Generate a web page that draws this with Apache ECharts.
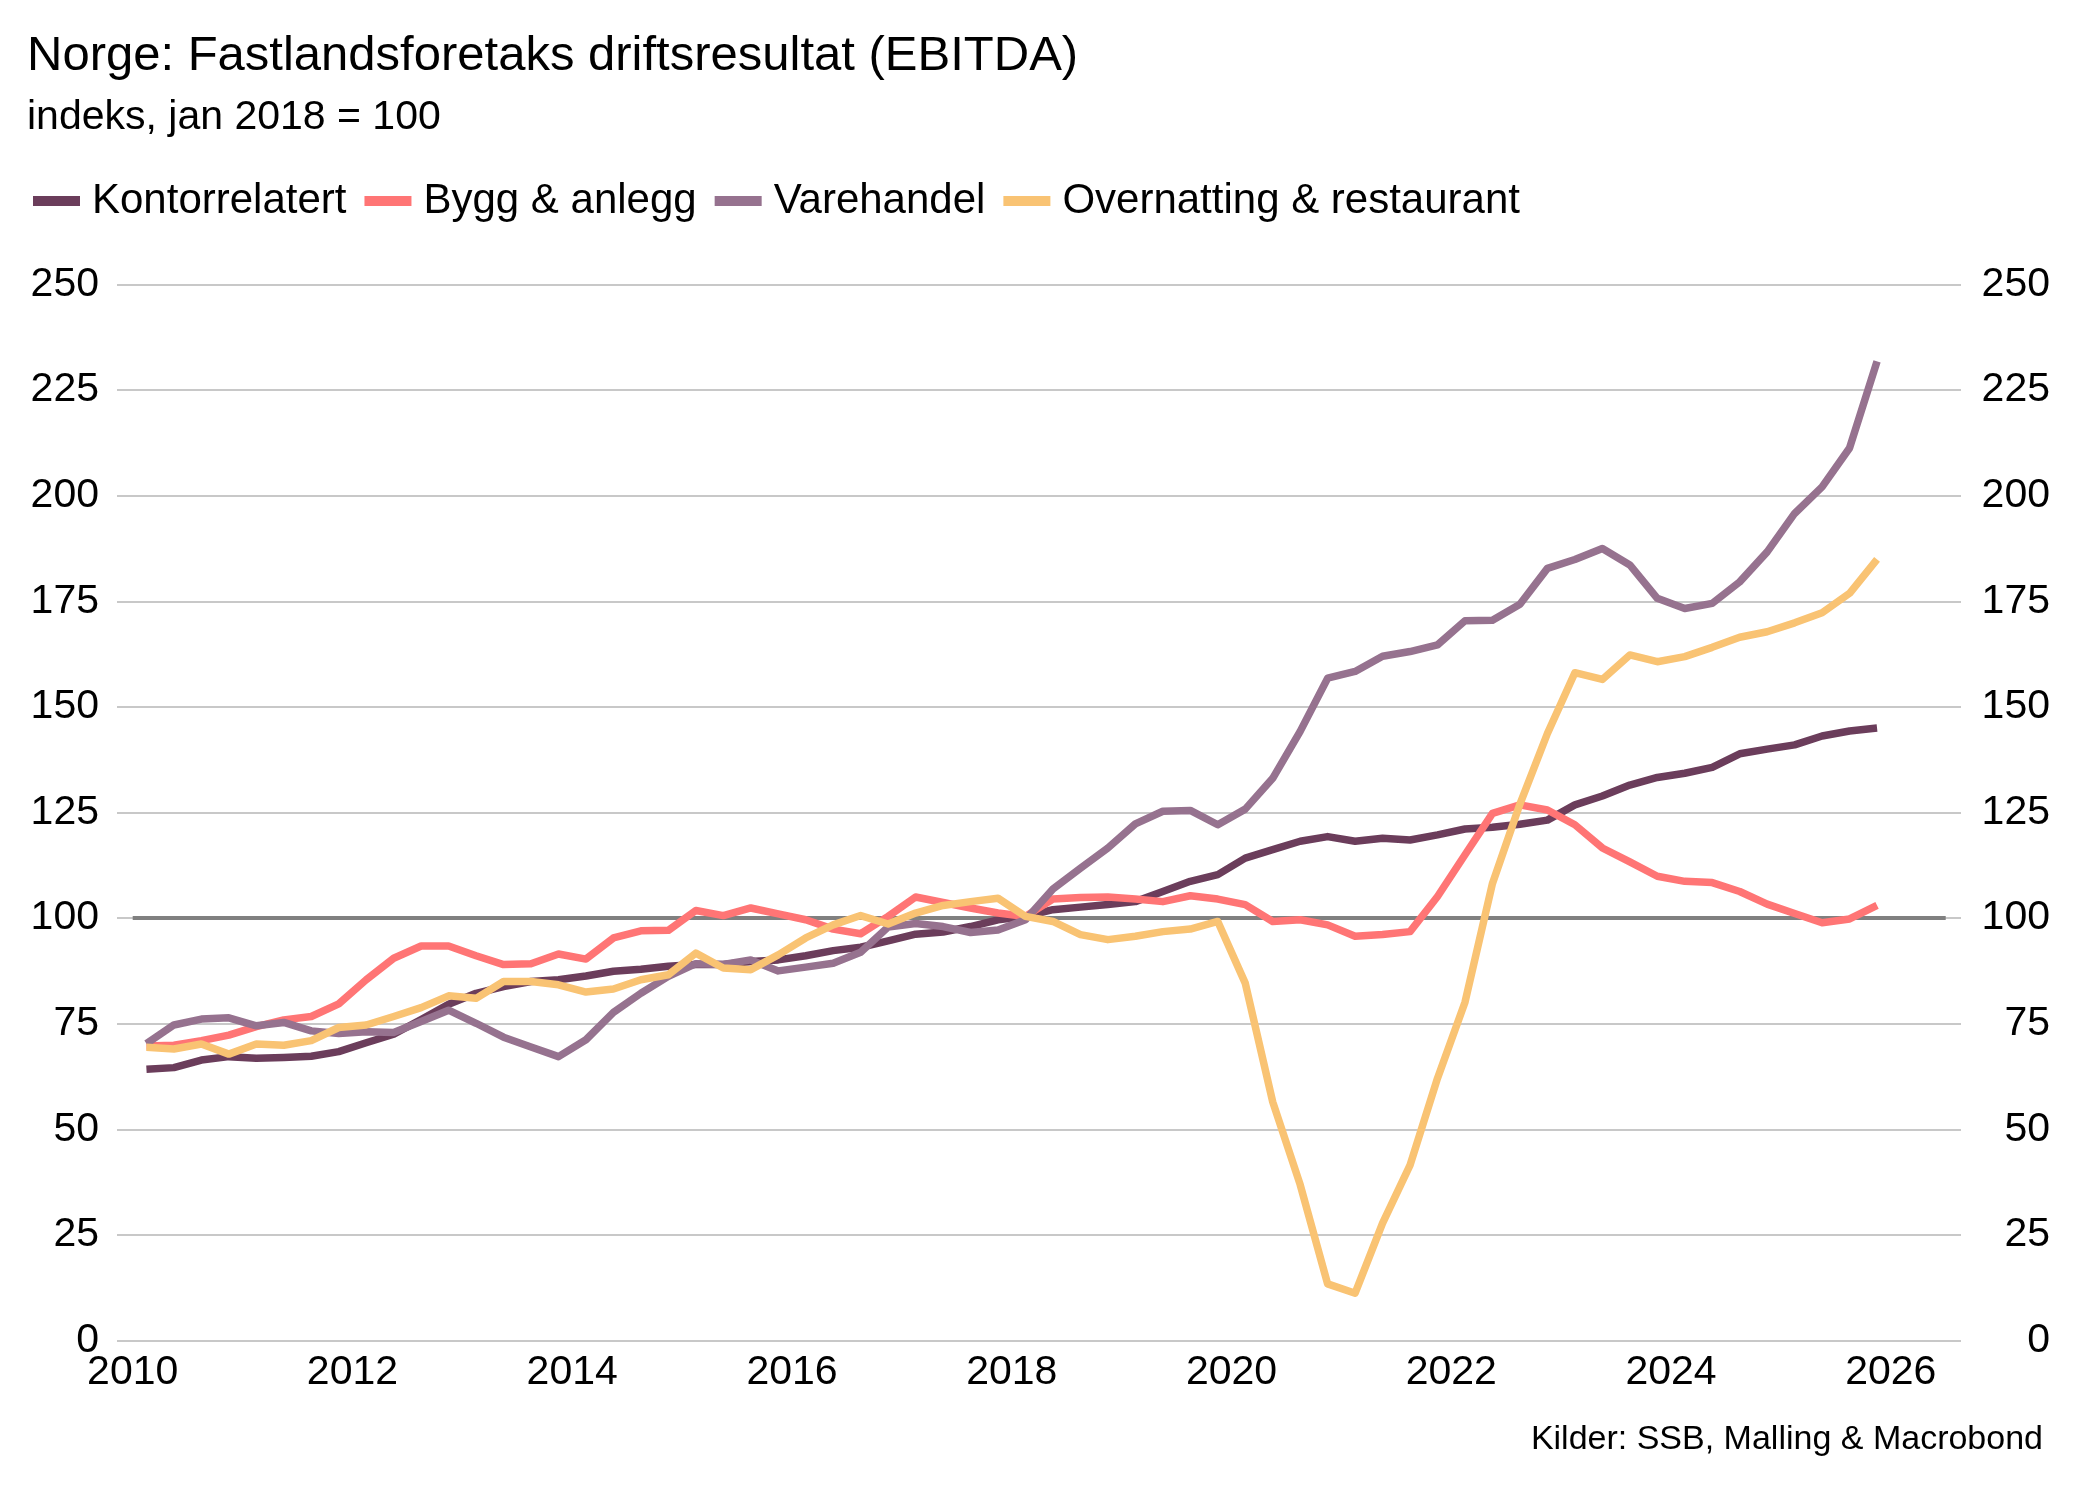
<!DOCTYPE html>
<html>
<head>
<meta charset="utf-8">
<script src="https://cdn.jsdelivr.net/npm/echarts@6/dist/echarts.min.js"></script>
<style>
html,body{margin:0;padding:0;background:#fff;}
#chart{width:2078px;height:1500px;}
</style>
</head>
<body>
<div id="chart"></div>
<script>
// Quarterly observations 2010K1 .. 2025K4
const quarters = [];
for (let y = 2010; y <= 2025; y++) for (let q = 1; q <= 4; q++) quarters.push(y + 'K' + q);

const seriesNames = ['Kontorrelatert', 'Bygg & anlegg', 'Varehandel', 'Overnatting & restaurant'];

const kontorrelatert = [64.2, 64.6, 66.4, 67.2, 66.8, 67.0, 67.3, 68.4, 70.5, 72.5,
  76.0, 79.6, 82.2, 83.8, 85.0, 85.4, 86.3, 87.4, 87.9, 88.6,
  89.0, 89.0, 89.7, 90.1, 91.1, 92.3, 93.1, 94.6, 96.2, 96.7,
  98.0, 99.6, 100.4, 102.0, 102.6, 103.2, 103.9, 106.3, 108.7, 110.3,
  114.2, 116.2, 118.2, 119.3, 118.2, 118.9, 118.5, 119.7, 121.1, 121.5,
  122.2, 123.2, 126.8, 128.9, 131.5, 133.3, 134.3, 135.7, 138.9, 140.0,
  141.0, 143.1, 144.3, 145.0];

const byggAnlegg = [69.7, 69.9, 71.0, 72.3, 74.3, 75.9, 76.7, 79.7, 85.4, 90.5,
  93.4, 93.4, 91.1, 89.0, 89.2, 91.5, 90.3, 95.3, 97.0, 97.1,
  101.8, 100.6, 102.4, 101.0, 99.6, 97.4, 96.3, 100.4, 105.0, 103.7,
  102.4, 101.2, 100.4, 104.5, 104.9, 105.0, 104.5, 103.9, 105.3, 104.5,
  103.2, 99.2, 99.6, 98.4, 95.7, 96.1, 96.8, 105.1, 115.0, 124.8,
  126.8, 125.6, 122.1, 116.6, 113.3, 109.9, 108.7, 108.4, 106.3, 103.3,
  101.1, 98.9, 99.8, 103.0];

const varehandel = [70.3, 74.7, 76.1, 76.4, 74.5, 75.3, 73.3, 72.7, 73.1, 72.9,
  75.5, 78.2, 75.1, 71.8, 69.5, 67.2, 71.2, 77.7, 82.2, 86.2,
  89.2, 89.0, 90.1, 87.5, 88.4, 89.3, 91.9, 97.9, 98.7, 98.0,
  96.6, 97.2, 99.6, 106.9, 111.8, 116.6, 122.3, 125.3, 125.5, 122.1,
  125.8, 133.1, 144.2, 156.8, 158.4, 162.0, 163.1, 164.7, 170.4, 170.5,
  174.3, 182.8, 184.9, 187.5, 183.6, 175.7, 173.3, 174.5, 179.6, 186.7,
  195.8, 202.1, 211.3, 231.8];

const overnatting = [69.4, 69.0, 70.2, 67.8, 70.2, 69.9, 71.0, 74.1, 74.7, 76.7,
  78.8, 81.6, 81.0, 85.0, 85.0, 84.2, 82.5, 83.2, 85.4, 86.6,
  91.7, 88.2, 87.8, 91.3, 95.3, 98.4, 100.6, 98.6, 101.2, 103.0,
  103.9, 104.7, 100.4, 99.2, 96.1, 94.9, 95.7, 96.8, 97.4, 99.2,
  84.6, 56.5, 36.9, 13.4, 11.2, 27.8, 41.5, 62.1, 80.1, 108.2,
  127.0, 143.7, 158.1, 156.5, 162.3, 160.7, 161.9, 164.1, 166.5, 167.8,
  169.9, 172.3, 176.9, 184.9];

const yearTicks = [2010, 2012, 2014, 2016, 2018, 2020, 2022, 2024, 2026];
const refLine = { value: 100, from: 2010, to: 2026.5 };

const colors = ['#6b3d5b', '#ff7575', '#96728f', '#f9c373'];
const FONT = '"Liberation Sans", Arial, sans-serif';

// quarter label -> mid-quarter decimal year
function qx(label) {
  const p = label.split('K');
  return Number(p[0]) + (Number(p[1]) - 0.5) / 4;
}
function pairs(vals) { return quarters.map((q, i) => [qx(q), vals[i]]); }

const chart = echarts.init(document.getElementById('chart'), null, { renderer: 'canvas' });

const lineSeries = [kontorrelatert, byggAnlegg, varehandel, overnatting].map((vals, k) => ({
  name: seriesNames[k],
  type: 'line',
  data: pairs(vals),
  showSymbol: false,
  symbol: 'none',
  z: 3 + k,
  lineStyle: { width: 7.5, color: colors[k], join: 'round', cap: 'butt' },
  itemStyle: { color: colors[k] },
  emphasis: { disabled: true },
  animation: false
}));

const option = {
  backgroundColor: '#ffffff',
  animation: false,
  textStyle: { fontFamily: FONT, color: '#000' },
  title: {
    text: 'Norge: Fastlandsforetaks driftsresultat (EBITDA)',
    subtext: 'indeks, jan 2018 = 100',
    left: 22,
    top: 27,
    itemGap: 16,
    textStyle: { fontFamily: FONT, fontSize: 49, fontWeight: 'normal', color: '#000' },
    subtextStyle: { fontFamily: FONT, fontSize: 41, color: '#000' }
  },
  legend: {
    data: seriesNames,
    left: 28,
    top: 175,
    icon: 'rect',
    itemWidth: 47,
    itemHeight: 10,
    itemGap: 18,
    selectedMode: false,
    textStyle: { fontFamily: FONT, fontSize: 42, color: '#000', padding: [0, 0, 0, 7] }
  },
  grid: { left: 117, right: 117, top: 284.5, bottom: 159.5, containLabel: false },
  xAxis: {
    type: 'value',
    min: 2010 - 15.7 / 109.88,
    max: 2010 + (1961 - 132.7) / 109.88,
    axisLine: { show: false },
    axisTick: { show: false },
    splitLine: { show: false },
    axisLabel: {
      customValues: yearTicks,
      formatter: v => String(Math.round(v)),
      fontFamily: FONT, fontSize: 41, color: '#000', margin: 12
    }
  },
  yAxis: [
    {
      type: 'value', min: 0, max: 250, interval: 25, position: 'left',
      axisLine: { show: false }, axisTick: { show: false },
      splitLine: { show: true, lineStyle: { color: '#c8c8c8', width: 2 } },
      axisLabel: { fontFamily: FONT, fontSize: 41, color: '#000', margin: 18 }
    },
    {
      type: 'value', min: 0, max: 250, interval: 25, position: 'right',
      axisLine: { show: false }, axisTick: { show: false },
      splitLine: { show: false },
      axisLabel: { fontFamily: FONT, fontSize: 41, color: '#000', margin: 89, align: 'right' }
    }
  ],
  graphic: [{
    type: 'text',
    right: 35,
    top: 1423,
    style: { text: 'Kilder: SSB, Malling & Macrobond', font: '34px ' + FONT, fill: '#000' }
  }],
  series: [{
    name: 'ref100',
    type: 'line',
    data: [[refLine.from, refLine.value], [refLine.to, refLine.value]],
    showSymbol: false, symbol: 'none', z: 2,
    lineStyle: { width: 4, color: '#808080' },
    emphasis: { disabled: true },
    silent: true
  }].concat(lineSeries)
};

chart.setOption(option);
</script>
</body>
</html>
